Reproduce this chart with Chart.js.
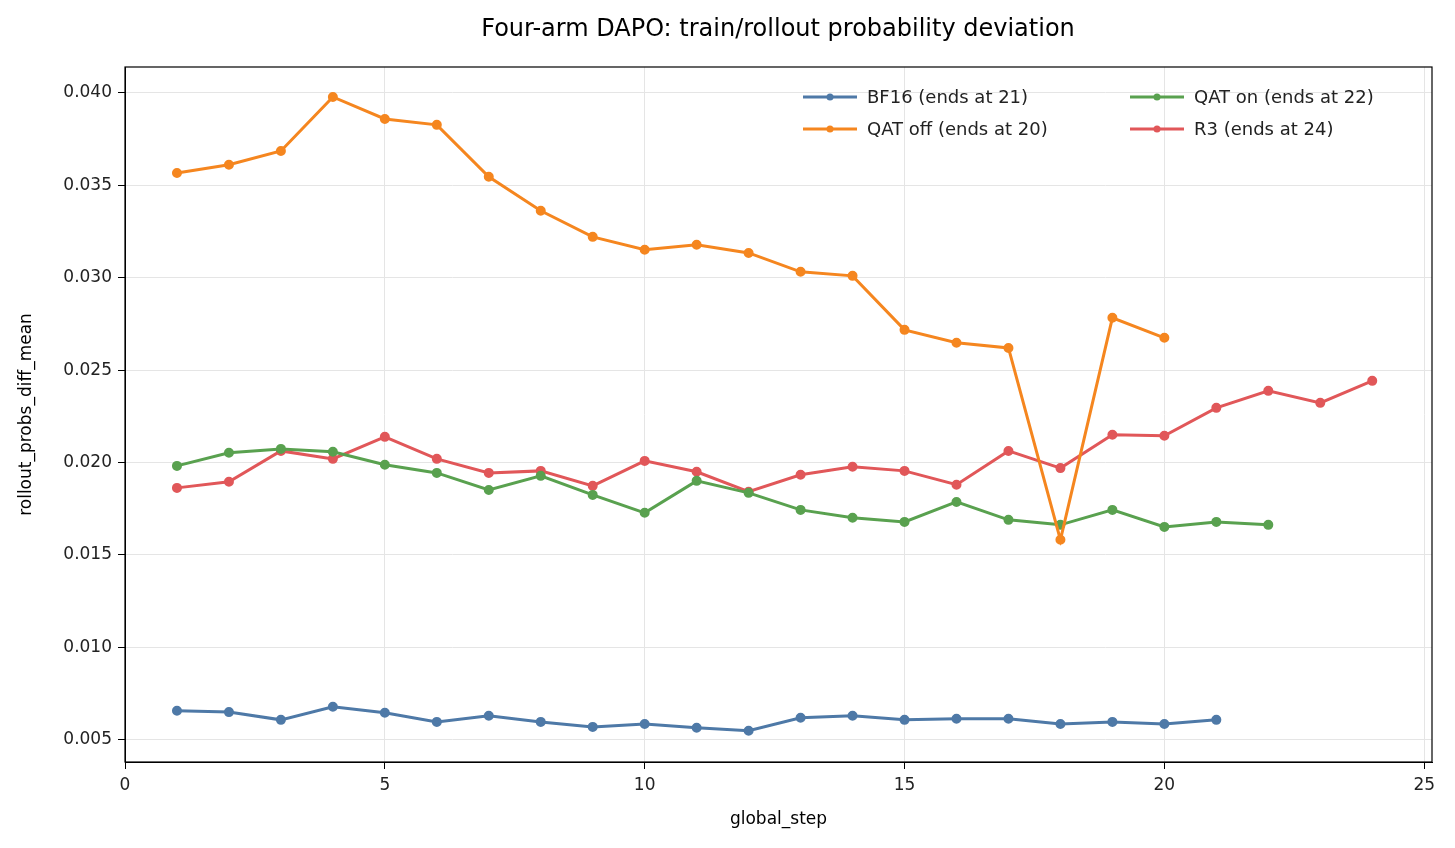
<!DOCTYPE html>
<html><head><meta charset="utf-8">
<script src="https://cdn.jsdelivr.net/npm/chart.js@4"></script>
<style>body{margin:0;background:#fff}</style></head>
<body><canvas id="c" width="1455" height="848"></canvas>
<script>
const bf16 = [0.00657,0.00650,0.00608,0.00679,0.00646,0.00597,0.00630,0.00597,0.00570,0.00586,0.00565,0.00549,0.00619,0.00630,0.00608,0.00614,0.00614,0.00586,0.00597,0.00586,0.00608];
const qatOff = [0.03567,0.03611,0.03686,0.03978,0.03859,0.03827,0.03546,0.03362,0.03221,0.03151,0.03178,0.03134,0.03032,0.03010,0.02718,0.02648,0.02620,0.01582,0.02783,0.02675];
const qatOn = [0.01982,0.02053,0.02074,0.02058,0.01988,0.01944,0.01852,0.01928,0.01825,0.01728,0.01901,0.01836,0.01744,0.01701,0.01679,0.01787,0.01690,0.01663,0.01744,0.01652,0.01679,0.01663];
const r3 = [0.01863,0.01896,0.02063,0.02020,0.02139,0.02020,0.01944,0.01955,0.01874,0.02009,0.01950,0.01842,0.01934,0.01977,0.01955,0.01880,0.02063,0.01970,0.02150,0.02145,0.02296,0.02388,0.02323,0.02442];
const xTicks = [0,5,10,15,20,25];
const yTicks = [0.005,0.010,0.015,0.020,0.025,0.030,0.035,0.040];
const pts = a => a.map((v,i)=>({x:i+1,y:v}));
const mk = (label,data,color)=>({label,data:pts(data),borderColor:color,backgroundColor:color,borderWidth:3,pointRadius:3.5,pointHoverRadius:3.5,tension:0});
const sets=[mk('BF16 (ends at 21)',bf16,'#4e79a7'),mk('QAT off (ends at 20)',qatOff,'#f5861f'),mk('QAT on (ends at 22)',qatOn,'#59a14f'),mk('R3 (ends at 24)',r3,'#e15759')];
const F='"DejaVu Sans"';
const deco={id:'deco',afterDraw(ch){const c=ch.ctx,a=ch.chartArea;c.save();
c.strokeStyle='#000';c.lineWidth=1.2;c.strokeRect(a.left,a.top,a.right-a.left,a.bottom-a.top);
c.fillStyle='#000';c.font='24px '+F;c.textAlign='center';c.textBaseline='middle';c.fillText('Four-arm DAPO: train/rollout probability deviation',778,30);
c.font='17px '+F;c.fillText('global_step',(a.left+a.right)/2,820);
c.save();c.translate(27,(a.top+a.bottom)/2);c.rotate(-Math.PI/2);c.fillText('rollout_probs_diff_mean',0,0);c.restore();
c.font='18px '+F;c.textAlign='left';
const pos=[[803,97],[803,129],[1130,97],[1130,129]];
sets.forEach((d,i)=>{const [x,y]=pos[i];c.strokeStyle=d.borderColor;c.lineWidth=3;c.beginPath();c.moveTo(x,y);c.lineTo(x+54,y);c.stroke();
c.fillStyle=d.borderColor;c.beginPath();c.arc(x+27,y,3.5,0,7);c.fill();c.fillStyle='#222';c.fillText(d.label,x+64,y+1);});
c.restore();}};
new Chart(document.getElementById('c'),{type:'line',data:{datasets:sets},plugins:[deco],
options:{responsive:false,animation:false,devicePixelRatio:1,layout:{padding:{top:67,right:23,left:0,bottom:0}},
plugins:{legend:{display:false},title:{display:false},tooltip:{enabled:false}},
scales:{
x:{type:'linear',min:0,max:25.15,afterBuildTicks:s=>{s.ticks=xTicks.map(v=>({value:v}))},afterFit:s=>{s.height=86},
ticks:{color:'#222',font:{size:17,family:F},padding:6,maxRotation:0,callback:v=>v},
grid:{color:'#e5e5e5',tickColor:'#000',tickLength:7},border:{color:'#000'}},
y:{min:0.0038,max:0.0414,afterBuildTicks:s=>{s.ticks=yTicks.map(v=>({value:v}))},afterFit:s=>{s.width=125},
ticks:{color:'#222',font:{size:17,family:F},padding:6,callback:v=>v.toFixed(3)},
grid:{color:'#e5e5e5',tickColor:'#000',tickLength:7},border:{color:'#000'}}}}});
</script></body></html>
